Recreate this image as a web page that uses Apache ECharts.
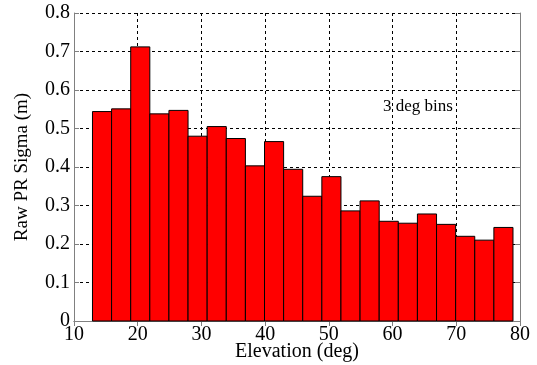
<!DOCTYPE html>
<html>
<head>
<meta charset="utf-8">
<script src="https://cdn.jsdelivr.net/npm/echarts@6/dist/echarts.min.js"></script>
<style>
html, body { margin: 0; padding: 0; background: #fff; }
#chart { width: 537px; height: 365px; }
</style>
</head>
<body>
<div id="chart"></div>
<script>
// 3 deg elevation bins: centre of each bin and its raw PR sigma (m)
var binCenters = [14.4, 17.4, 20.4, 23.4, 26.4, 29.4, 32.4, 35.4, 38.4, 41.4, 44.4,
	47.4, 50.4, 53.4, 56.4, 59.4, 62.4, 65.4, 68.4, 71.4, 74.4, 77.4];
var sigmaValues = [0.544, 0.551, 0.712, 0.538, 0.547, 0.480, 0.505, 0.474, 0.403, 0.466, 0.394,
	0.324, 0.375, 0.286, 0.312, 0.259, 0.254, 0.278, 0.251, 0.220, 0.210, 0.243];
var binWidth = 3;
var xTicks = [10, 20, 30, 40, 50, 60, 70, 80];
var yTicks = [0, 0.1, 0.2, 0.3, 0.4, 0.5, 0.6, 0.7, 0.8];

var serif = "'Liberation Serif', 'Times New Roman', serif";
var boxColor = "#808080";

var myChart = echarts.init(document.getElementById("chart"));

var barData = binCenters.map(function (c, i) {
	return [c, sigmaValues[i]];
});

var option = {
	animation: false,
	backgroundColor: "#fff",
	grid: { left: 74, right: 17, top: 13, bottom: 44, outerBoundsMode: "none" },
	xAxis: [
		{
			type: "value",
			min: xTicks[0],
			max: xTicks[xTicks.length - 1],
			interval: 10,
			name: "Elevation (deg)",
			nameLocation: "middle",
			nameGap: 21,
			nameMoveOverlap: false,
			nameTextStyle: { fontFamily: serif, fontSize: 20, color: "#000" },
			axisLine: { show: true, onZero: false, lineStyle: { color: boxColor } },
			axisTick: { show: true, inside: true, length: 5, lineStyle: { color: boxColor } },
			axisLabel: { margin: 4, fontFamily: serif, fontSize: 20, color: "#000" },
			splitLine: { show: true, lineStyle: { color: "#000", type: [3, 3], width: 1 } }
		},
		{
			type: "value",
			position: "top",
			min: xTicks[0],
			max: xTicks[xTicks.length - 1],
			interval: 10,
			axisLine: { show: true, lineStyle: { color: boxColor } },
			axisTick: { show: true, inside: true, length: 5, lineStyle: { color: boxColor } },
			axisLabel: { show: false },
			splitLine: { show: false }
		}
	],
	yAxis: [
		{
			type: "value",
			min: yTicks[0],
			max: yTicks[yTicks.length - 1],
			interval: 0.1,
			name: "Raw PR Sigma (m)",
			nameLocation: "middle",
			nameGap: 42,
			nameMoveOverlap: false,
			nameTextStyle: { fontFamily: serif, fontSize: 19, color: "#000" },
			axisLine: { show: true, onZero: false, lineStyle: { color: boxColor } },
			axisTick: { show: true, inside: true, length: 5, lineStyle: { color: boxColor } },
			axisLabel: { margin: 4, fontFamily: serif, fontSize: 20, color: "#000" },
			splitLine: { show: true, lineStyle: { color: "#000", type: [3, 3], width: 1 } }
		},
		{
			type: "value",
			position: "right",
			min: yTicks[0],
			max: yTicks[yTicks.length - 1],
			interval: 0.1,
			axisLine: { show: true, lineStyle: { color: boxColor } },
			axisTick: { show: true, inside: true, length: 5, lineStyle: { color: boxColor } },
			axisLabel: { show: false },
			splitLine: { show: false }
		}
	],
	graphic: [
		{
			type: "text",
			left: 383,
			top: 98,
			style: { text: "3 deg bins", fontFamily: serif, fontSize: 17, fill: "#000" }
		}
	],
	series: [
		{
			type: "custom",
			xAxisIndex: 0,
			yAxisIndex: 0,
			data: barData,
			renderItem: function (params, api) {
				var c = api.value(0);
				var v = api.value(1);
				var p0 = api.coord([c - binWidth / 2, 0]);
				var p1 = api.coord([c + binWidth / 2, v]);
				return {
					type: "rect",
					shape: { x: p0[0], y: p1[1], width: p1[0] - p0[0], height: p0[1] - p1[1] },
					style: { fill: "#ff0000", stroke: "#000", lineWidth: 1 }
				};
			}
		}
	]
};
myChart.setOption(option);
</script>
</body>
</html>
